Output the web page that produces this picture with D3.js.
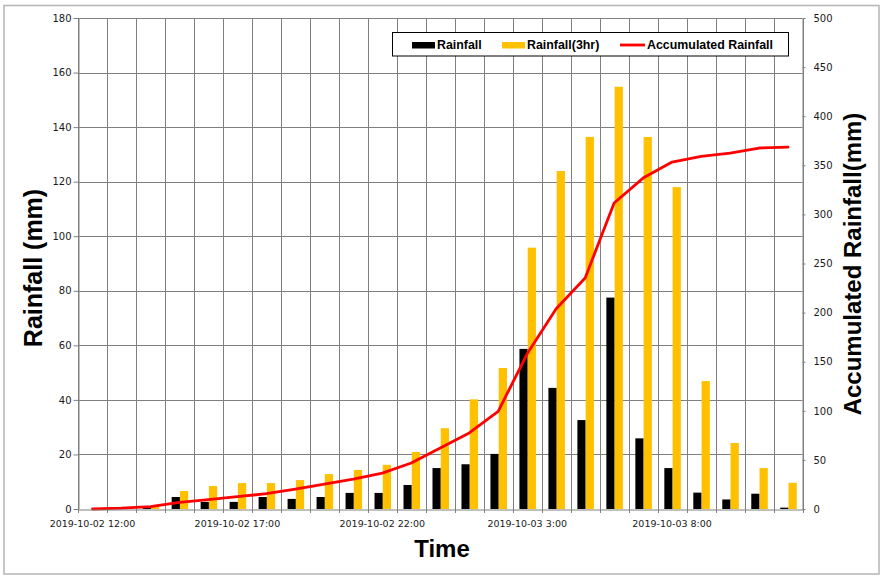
<!DOCTYPE html>
<html>
<head>
<meta charset="utf-8">
<script src="https://cdn.jsdelivr.net/npm/d3@7"></script>
<style>
  html, body { margin: 0; padding: 0; background: #fff; }
  svg { display: block; }
</style>
</head>
<body>
<svg id="chart" width="886" height="585"></svg>
<script>
// ---- data ----
const categories = [
  "2019-10-02 12:00","2019-10-02 13:00","2019-10-02 14:00","2019-10-02 15:00","2019-10-02 16:00",
  "2019-10-02 17:00","2019-10-02 18:00","2019-10-02 19:00","2019-10-02 20:00","2019-10-02 21:00",
  "2019-10-02 22:00","2019-10-02 23:00","2019-10-03 0:00","2019-10-03 1:00","2019-10-03 2:00",
  "2019-10-03 3:00","2019-10-03 4:00","2019-10-03 5:00","2019-10-03 6:00","2019-10-03 7:00",
  "2019-10-03 8:00","2019-10-03 9:00","2019-10-03 10:00","2019-10-03 11:00","2019-10-03 12:00"
];
const rainfall = [0, 0, 1.0, 4.4, 2.6, 2.6, 4.4, 3.7, 4.4, 5.9, 5.9, 8.8, 15.0, 16.4, 20.2,
  58.7, 44.4, 32.6, 77.5, 25.9, 15.0, 6.0, 3.5, 5.6, 0.5];
const rainfall3hr = [0, 0, 1.0, 6.6, 8.4, 9.5, 9.5, 10.6, 12.8, 14.3, 16.2, 20.9, 29.6, 40.2, 51.7,
  95.8, 123.9, 136.4, 154.8, 136.4, 118.0, 46.9, 24.2, 15.0, 9.6];
const accumulated = [0, 0.8, 2.5, 6.8, 9.5, 12.5, 15.6, 20.3, 25.4, 30.5, 36.6, 46.8, 62, 77.4, 99.4,
  158, 204, 235.2, 311.6, 337, 353.3, 359, 362.5, 367.6, 368.6];
const leftTicks = [0, 20, 40, 60, 80, 100, 120, 140, 160, 180];
const rightTicks = [0, 50, 100, 150, 200, 250, 300, 350, 400, 450, 500];
const xLabelEvery = 5;
const seriesNames = ["Rainfall", "Rainfall(3hr)", "Accumulated Rainfall"];
const titles = { x: "Time", yLeft: "Rainfall (mm)", yRight: "Accumulated Rainfall(mm)" };

// ---- layout ----
const L = 78, R = 802.5, T = 18, B = 509;
const colBlack = "#000000", colGold = "#ffc000", colRed = "#ff0000", gridCol = "#808080";

const svg = d3.select("#chart");

// outer frame
svg.append("rect").attr("x", 4).attr("y", 5.5).attr("width", 875).attr("height", 568.5)
  .attr("fill", "#fff").attr("stroke", "#b4b4b4").attr("stroke-width", 1.5);

const x = d3.scaleBand().domain(categories).range([L, R]).padding(0);
const yL = d3.scaleLinear().domain([0, 180]).range([B, T]);
const yR = d3.scaleLinear().domain([0, 500]).range([B, T]);

// horizontal gridlines
svg.append("g").selectAll("line").data(leftTicks.filter(d => d > 0)).join("line")
  .attr("x1", L).attr("x2", R)
  .attr("y1", d => Math.round(yL(d)) + 0.5).attr("y2", d => Math.round(yL(d)) + 0.5)
  .attr("stroke", gridCol).attr("stroke-width", 1);

// vertical gridlines at category boundaries
const bounds = categories.map(c => x(c)).concat([x.range()[1]]);
svg.append("g").selectAll("line").data(bounds).join("line")
  .attr("x1", d => Math.round(d) + 0.5).attr("x2", d => Math.round(d) + 0.5)
  .attr("y1", T).attr("y2", B + 4)
  .attr("stroke", gridCol).attr("stroke-width", 1);

// bars
const bw = x.bandwidth() * 0.285;
svg.append("g").selectAll("rect").data(categories).join("rect")
  .attr("x", c => x(c) + x.bandwidth() / 2 - bw + 0.5)
  .attr("y", (c, i) => yL(rainfall[i]))
  .attr("width", bw)
  .attr("height", (c, i) => B - yL(rainfall[i]))
  .attr("fill", colBlack);
svg.append("g").selectAll("rect").data(categories).join("rect")
  .attr("x", c => x(c) + x.bandwidth() / 2 + 0.5)
  .attr("y", (c, i) => yL(rainfall3hr[i]))
  .attr("width", bw)
  .attr("height", (c, i) => B - yL(rainfall3hr[i]))
  .attr("fill", colGold);

// accumulated line
const line = d3.line()
  .x((d, i) => x(categories[i]) + x.bandwidth() / 2)
  .y(d => yR(d));
svg.append("path").datum(accumulated)
  .attr("d", line).attr("fill", "none")
  .attr("stroke", colRed).attr("stroke-width", 2.8)
  .attr("stroke-linejoin", "round").attr("stroke-linecap", "round");

// axes
const leftAxis = d3.axisLeft(yL).tickValues(leftTicks).tickSize(5).tickPadding(2).tickSizeOuter(0);
const gL = svg.append("g").attr("transform", `translate(${L + 0.5},0)`).call(leftAxis);
const rightAxis = d3.axisRight(yR).tickValues(rightTicks).tickSize(3).tickPadding(8).tickSizeOuter(0);
const gR = svg.append("g").attr("transform", `translate(${R},0)`).call(rightAxis);
const bottomAxis = d3.axisBottom(x).tickSize(0).tickPadding(11).tickSizeOuter(0)
  .tickFormat((d, i) => (i % xLabelEvery === 0 ? d : ""));
const gB = svg.append("g").attr("transform", `translate(0,${B + 0.5})`).call(bottomAxis);

[gL, gR, gB].forEach(g => {
  g.select(".domain").attr("stroke", gridCol).attr("stroke-width", 1);
  g.selectAll(".tick line").attr("stroke", gridCol);
  g.selectAll("text").attr("fill", "#1a1a1a").attr("font-family", "'DejaVu Sans', Verdana, sans-serif");
});
gL.selectAll("text").attr("font-size", 10);
gR.selectAll("text").attr("font-size", 10).attr("text-anchor", "start");
gB.selectAll("text").attr("font-size", 9.5);

// axis titles
svg.append("text").attr("x", 442).attr("y", 557).attr("text-anchor", "middle")
  .attr("font-family", "'Liberation Sans', Arial, sans-serif").attr("font-weight", "bold")
  .attr("font-size", 24).attr("fill", "#000").text(titles.x);
svg.append("text").attr("transform", "translate(42,268) rotate(-90)").attr("text-anchor", "middle")
  .attr("font-family", "'Liberation Sans', Arial, sans-serif").attr("font-weight", "bold")
  .attr("font-size", 25).attr("fill", "#000").text(titles.yLeft);
svg.append("text").attr("transform", "translate(861,264) rotate(-90)").attr("text-anchor", "middle")
  .attr("font-family", "'Liberation Sans', Arial, sans-serif").attr("font-weight", "bold")
  .attr("font-size", 24).attr("fill", "#000").text(titles.yRight);

// legend
const lg = svg.append("g");
lg.append("rect").attr("x", 392.5).attr("y", 32.5).attr("width", 396).attr("height", 23.5)
  .attr("fill", "#fff").attr("stroke", "#000").attr("stroke-width", 1);
const items = [
  { name: seriesNames[0], type: "bar", color: colBlack, sx: 412, tx: 437 },
  { name: seriesNames[1], type: "bar", color: colGold, sx: 502, tx: 527 },
  { name: seriesNames[2], type: "line", color: colRed, sx: 620, tx: 647 }
];
items.forEach(it => {
  if (it.type === "bar") {
    lg.append("rect").attr("x", it.sx).attr("y", 42).attr("width", 23).attr("height", 6.5).attr("fill", it.color);
  } else {
    lg.append("line").attr("x1", it.sx).attr("x2", it.sx + 25).attr("y1", 45).attr("y2", 45)
      .attr("stroke", it.color).attr("stroke-width", 2.8);
  }
  lg.append("text").attr("x", it.tx).attr("y", 48.8)
    .attr("font-family", "'Liberation Sans', Arial, sans-serif").attr("font-weight", "bold")
    .attr("font-size", 12.4).attr("fill", "#000").text(it.name);
});
</script>
</body>
</html>
